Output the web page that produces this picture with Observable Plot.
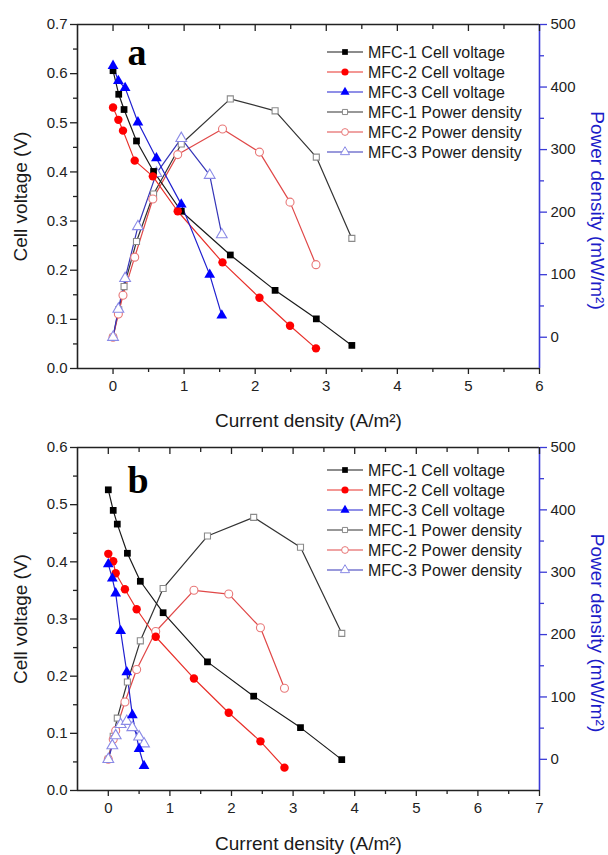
<!DOCTYPE html>
<html><head><meta charset="utf-8">
<script src="https://cdn.jsdelivr.net/npm/d3@7"></script>
<script src="https://cdn.jsdelivr.net/npm/@observablehq/plot@0.6"></script>
<style>
body{margin:0;background:#fff;}
#chart{width:608px;}
#chart svg{display:block;}
</style>
</head><body><div id="chart"></div>
<script>
// ---------- Panel a ----------
const a_mfc1_current = [0, 0.08, 0.155, 0.33, 0.57, 0.96, 1.65, 2.28, 2.86, 3.36];
const a_mfc1_voltage = [0.606, 0.558, 0.527, 0.463, 0.401, 0.320, 0.231, 0.159, 0.101, 0.047];
const a_mfc1_power   = [0, 44, 81, 153, 229, 309, 381, 362, 288, 158];
const a_mfc2_current = [0, 0.075, 0.14, 0.305, 0.56, 0.91, 1.54, 2.06, 2.49, 2.855];
const a_mfc2_voltage = [0.531, 0.506, 0.484, 0.423, 0.391, 0.320, 0.216, 0.144, 0.087, 0.041];
const a_mfc2_power   = [0, 37, 67, 128, 221, 292, 333, 296, 216, 116];
const a_mfc3_current = [0, 0.075, 0.17, 0.35, 0.61, 0.96, 1.36, 1.53];
const a_mfc3_voltage = [0.616, 0.585, 0.571, 0.501, 0.428, 0.334, 0.191, 0.108];
const a_mfc3_power   = [0, 45, 94, 177, 262, 318, 259, 164];

// ---------- Panel b ----------
const b_mfc1_current = [0, 0.08, 0.146, 0.31, 0.52, 0.89, 1.61, 2.36, 3.12, 3.79];
const b_mfc1_voltage = [0.526, 0.490, 0.466, 0.415, 0.366, 0.311, 0.225, 0.165, 0.110, 0.054];
const b_mfc1_power   = [0, 37, 66, 124, 190, 274, 358, 388, 340, 202];
const b_mfc2_current = [0, 0.08, 0.12, 0.27, 0.46, 0.77, 1.39, 1.955, 2.47, 2.86];
const b_mfc2_voltage = [0.414, 0.401, 0.380, 0.352, 0.317, 0.269, 0.196, 0.136, 0.086, 0.040];
const b_mfc2_power   = [0, 32, 46, 92, 144, 205, 271, 265, 211, 114];
const b_mfc3_current = [0, 0.065, 0.12, 0.2, 0.3, 0.39, 0.5, 0.58];
const b_mfc3_voltage = [0.396, 0.371, 0.345, 0.279, 0.207, 0.132, 0.073, 0.043];
const b_mfc3_power   = [0, 22, 38, 56, 61, 51, 36, 25];

// ---------- Axes / labels ----------
const legendLabels = ["MFC-1 Cell voltage","MFC-2 Cell voltage","MFC-3 Cell voltage",
                      "MFC-1 Power density","MFC-2 Power density","MFC-3 Power density"];
const xTitle = "Current density (A/m²)";
const yTitle = "Cell voltage (V)";
const y2Title = "Power density (mW/m²)";
const powerTicks = [0, 100, 200, 300, 400, 500];
const powerMinor = [-50, 50, 150, 250, 350, 450];
const powerDomain = [-50, 500];

const FONT = "'Liberation Sans', Arial, sans-serif";
const BLUE_AXIS = "#3a3ad6";
const styles = [
  {line:"#1a1a1a", sym:"square",   fill:"#000",   stroke:"none", r:3.8},
  {line:"#e8302a", sym:"circle",   fill:"#ff0000",stroke:"none", r:4.2},
  {line:"#2020d0", sym:"triangle", fill:"#0000ff",stroke:"none", r:4.0},
  {line:"#333333", sym:"square",   fill:"#fff",   stroke:"#8a8a8a", r:3.4},
  {line:"#e04848", sym:"circle",   fill:"#fff",   stroke:"#e87878", r:4.0},
  {line:"#3535b8", sym:"triangle", fill:"#fff",   stroke:"#8a8ae6", r:4.0}
];

function panel(cfg) {
  const {cur, volt, pow, vMax, xMax, height, mt, mb, letter, letterDy, legendTop, titleDy} = cfg;
  const ml = 77, mr = 69;
  const yP = p => (p - powerDomain[0]) / (powerDomain[1] - powerDomain[0]) * vMax;
  const pFromY = y => y / vMax * (powerDomain[1] - powerDomain[0]) + powerDomain[0];
  const plotH = height - mt - mb;
  const vMajor = d3.range(0, vMax + 1e-9, 0.1);
  const vMinor = d3.range(0.05, vMax, 0.1);
  const xMajor = d3.range(0, xMax + 1e-9, 1);
  const xMinor = d3.range(0.5, xMax, 1);

  const marks = [];
  for (let k = 0; k < 3; k++) {
    const st = styles[3 + k];
    const data = cur[k].map((c, i) => ({x: c, y: yP(pow[k][i])}));
    marks.push(Plot.line(data, {x: "x", y: "y", stroke: st.line, strokeWidth: 1.2}));
  }
  for (let k = 0; k < 3; k++) {
    const st = styles[k];
    const data = cur[k].map((c, i) => ({x: c, y: volt[k][i]}));
    marks.push(Plot.line(data, {x: "x", y: "y", stroke: st.line, strokeWidth: 1.2}));
  }
  for (let k = 0; k < 3; k++) {
    const st = styles[3 + k];
    const data = cur[k].map((c, i) => ({x: c, y: yP(pow[k][i])}));
    marks.push(Plot.dot(data, {x: "x", y: "y", symbol: st.sym, r: st.r, fill: st.fill, stroke: st.stroke, strokeWidth: 1.1}));
  }
  for (let k = 0; k < 3; k++) {
    const st = styles[k];
    const data = cur[k].map((c, i) => ({x: c, y: volt[k][i]}));
    marks.push(Plot.dot(data, {x: "x", y: "y", symbol: st.sym, r: st.r, fill: st.fill, stroke: st.stroke}));
  }

  // frame
  marks.push(Plot.ruleY([0], {stroke: "#222", strokeWidth: 1.6}));
  marks.push(Plot.ruleY([vMax], {stroke: "#222", strokeWidth: 1.6}));
  marks.push(Plot.ruleX([-0.5], {stroke: "#222", strokeWidth: 1.6}));
  marks.push(Plot.ruleX([xMax], {stroke: BLUE_AXIS, strokeWidth: 1.6}));

  // left axis
  marks.push(Plot.axisY(vMajor, {anchor: "left", tickSize: 7, tickPadding: 3, tickFormat: d3.format(".1f"),
    fontSize: 15, fontFamily: FONT, fill: "#222", stroke: "#222", strokeWidth: 1.3, label: null}));
  marks.push(Plot.axisY(vMinor, {anchor: "left", tickSize: 4, tickFormat: () => "", stroke: "#222", strokeWidth: 1.3, label: null}));
  // bottom axis
  marks.push(Plot.axisX(xMajor, {anchor: "bottom", tickSize: 6, tickPadding: 6, tickFormat: d => String(d),
    fontSize: 15, fontFamily: FONT, fill: "#222", stroke: "#222", strokeWidth: 1.3, label: null}));
  marks.push(Plot.axisX(xMinor, {anchor: "bottom", tickSize: 4, tickFormat: () => "", stroke: "#222", strokeWidth: 1.3, label: null}));
  // top inward ticks
  marks.push(Plot.tickX(xMajor, {x: d => d, insetBottom: plotH - 7, stroke: "#222", strokeWidth: 1.3}));
  marks.push(Plot.tickX(xMinor, {x: d => d, insetBottom: plotH - 5, stroke: "#222", strokeWidth: 1.3}));
  // right axis (power density)
  marks.push(Plot.axisY(powerTicks.map(yP), {anchor: "right", tickSize: 7, tickPadding: 4,
    tickFormat: y => String(Math.round(pFromY(y))), fontSize: 15, fontFamily: FONT,
    fill: "#222", stroke: BLUE_AXIS, strokeWidth: 1.3, label: null}));
  marks.push(Plot.axisY(powerMinor.map(yP).filter(y => y > 0.0001), {anchor: "right", tickSize: 4, tickFormat: () => "",
    stroke: BLUE_AXIS, strokeWidth: 1.3, label: null}));

  // titles
  marks.push(Plot.text([xTitle], {frameAnchor: "bottom", dy: titleDy, lineAnchor: "middle", textAnchor: "middle",
    fontSize: 19, fontFamily: FONT, fill: "#1a1a1a"}));
  marks.push(Plot.text([yTitle], {frameAnchor: "left", dx: -57, rotate: -90, textAnchor: "middle", lineAnchor: "middle",
    fontSize: 19, fontFamily: FONT, fill: "#1a1a1a"}));
  marks.push(Plot.text([y2Title], {frameAnchor: "right", dx: 58, dy: 14, rotate: 90, textAnchor: "middle", lineAnchor: "middle",
    fontSize: 19, fontFamily: FONT, fill: "#1c1cc8"}));
  // panel letter
  marks.push(Plot.text([letter], {frameAnchor: "top-left", dx: 50, dy: letterDy, textAnchor: "start", lineAnchor: "middle",
    fontSize: 38, fontWeight: "bold", fontFamily: "'Liberation Serif', 'Times New Roman', serif", fill: "#000"}));

  const svg = Plot.plot({
    width: 608, height,
    marginLeft: ml, marginRight: mr, marginTop: mt, marginBottom: mb,
    x: {domain: [-0.5, xMax], axis: null},
    y: {domain: [0, vMax], axis: null},
    style: {fontFamily: FONT, background: "#fff", overflow: "visible"},
    marks
  });

  // legend
  const g = d3.select(svg).append("g").attr("font-family", FONT).attr("font-size", 16).attr("text-anchor", "start");
  legendLabels.forEach((lab, i) => {
    const st = styles[i];
    const yy = legendTop + i * 20;
    const row = g.append("g").attr("transform", `translate(0,${yy})`);
    row.append("line").attr("x1", 327).attr("x2", 363).attr("y1", 0).attr("y2", 0)
      .attr("stroke", st.line).attr("stroke-width", 1.2);
    const symType = st.sym === "square" ? d3.symbolSquare : st.sym === "circle" ? d3.symbolCircle : d3.symbolTriangle;
    const rr = st.r * 0.85;
    row.append("path").attr("d", d3.symbol(symType, rr * rr * Math.PI)())
      .attr("transform", "translate(345,0)")
      .attr("fill", st.fill).attr("stroke", st.stroke === "none" ? null : st.stroke).attr("stroke-width", 1);
    row.append("text").attr("x", 368).attr("y", 0).attr("dy", "0.35em").attr("fill", "#1a1a1a").text(lab);
  });
  return svg;
}

const chart = document.getElementById("chart");
chart.appendChild(panel({
  cur: [a_mfc1_current, a_mfc2_current, a_mfc3_current],
  volt: [a_mfc1_voltage, a_mfc2_voltage, a_mfc3_voltage],
  pow: [a_mfc1_power, a_mfc2_power, a_mfc3_power],
  vMax: 0.7, xMax: 6, height: 432, mt: 24, mb: 64, letter: "a", letterDy: 28, legendTop: 52, titleDy: 52
}));
chart.appendChild(panel({
  cur: [b_mfc1_current, b_mfc2_current, b_mfc3_current],
  volt: [b_mfc1_voltage, b_mfc2_voltage, b_mfc3_voltage],
  pow: [b_mfc1_power, b_mfc2_power, b_mfc3_power],
  vMax: 0.6, xMax: 7, height: 423, mt: 15, mb: 65, letter: "b", letterDy: 33, legendTop: 38, titleDy: 53
}));
</script>
</body></html>
